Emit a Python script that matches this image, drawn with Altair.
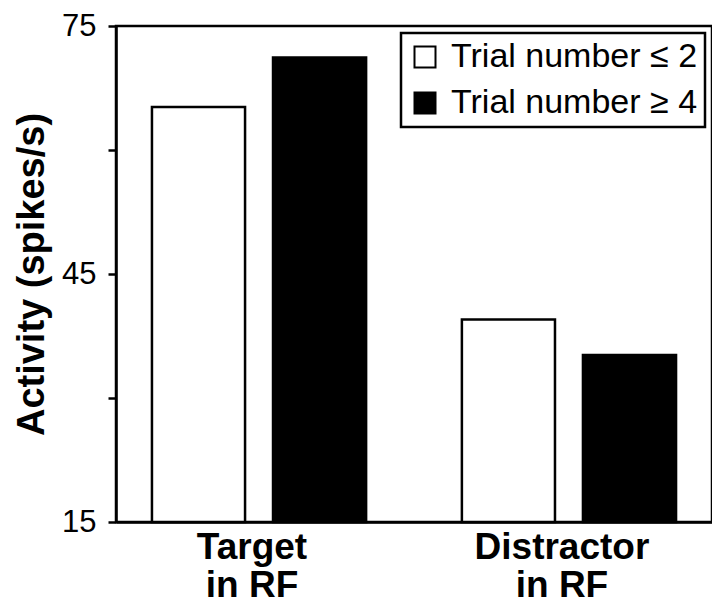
import altair as alt
import pandas as pd

categories = ["Target in RF", "Distractor in RF"]
groups = ["Trial number ≤ 2", "Trial number ≥ 4"]
early_values = [65.2, 39.5]
late_values = [71.2, 35.2]
y_domain = [15, 75]
y_ticks = [15, 30, 45, 60, 75]

rows = []
for c, e, l in zip(categories, early_values, late_values):
    rows.append({"cond": c, "group": groups[0], "activity": e})
    rows.append({"cond": c, "group": groups[1], "activity": l})
df = pd.DataFrame(rows)

FONT = "Liberation Sans"

chart = (
    alt.Chart(df)
    .mark_bar(stroke="black", strokeWidth=2.5)
    .encode(
        x=alt.X(
            "cond:N",
            sort=categories,
            scale=alt.Scale(paddingInner=0.077, paddingOuter=0),
            axis=alt.Axis(
                title=None,
                ticks=False,
                labelAngle=0,
                labelFont=FONT,
                labelFontSize=37,
                labelFontWeight="bold",
                labelColor="black",
                labelPadding=7,
                labelLineHeight=38,
                labelOffset=-7,
                labelLimit=0,
                labelExpr="datum.value == 'Target in RF' ? ['Target', 'in RF'] : ['Distractor', 'in RF']",
                domainColor="black",
                domainWidth=2.5,
            ),
        ),
        xOffset=alt.XOffset(
            "group:N",
            sort=groups,
            scale=alt.Scale(paddingInner=0.231, paddingOuter=0.297),
        ),
        y=alt.Y(
            "activity:Q",
            scale=alt.Scale(domain=y_domain, zero=False, nice=False),
            axis=alt.Axis(
                title="Activity (spikes/s)",
                titleFont=FONT,
                titleFontSize=38,
                titleFontWeight="bold",
                titleColor="black",
                titlePadding=10,
                values=y_ticks,
                labelExpr="datum.value % 30 == 15 ? datum.label : ''",
                labelFont=FONT,
                labelFontSize=31,
                labelColor="black",
                labelPadding=12,
                tickSize=8,
                tickWidth=2.5,
                tickColor="black",
                domainColor="black",
                domainWidth=2.5,
                grid=False,
            ),
        ),
        y2=alt.datum(y_domain[0]),
        color=alt.Color(
            "group:N",
            sort=groups,
            scale=alt.Scale(domain=groups, range=["white", "black"]),
            legend=alt.Legend(
                title=None,
                orient="top-right",
                offset=7,
                padding=7,
                strokeColor="black",
                symbolType="square",
                symbolSize=441,
                symbolStrokeColor="black",
                symbolStrokeWidth=2,
                labelFont=FONT,
                labelFontSize=34,
                labelColor="black",
                labelOffset=9,
                labelLimit=0,
                rowPadding=12,
            ),
        ),
    )
    .properties(
        width=596,
        height=496,
        autosize=alt.AutoSizeParams(type="none"),
        padding={"left": 108, "top": 18, "right": 0, "bottom": 82},
    )
    .configure_view(stroke="black", strokeWidth=2.5)
    .configure_legend(strokeWidth=2.5)
)

chart.save("out.html", embed_options={"renderer": "svg", "actions": False})
